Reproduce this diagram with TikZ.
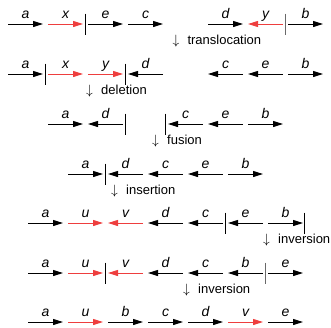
\documentclass[tikz,border=0pt]{standalone}
\usepackage{fontspec}
\setmainfont{Liberation Sans}
\usetikzlibrary{arrows.meta}
\definecolor{genered}{RGB}{238,62,62}
\definecolor{bargray}{RGB}{105,105,105}
\tikzset{
  gk/.style={draw=black, line width=1pt},
  grd/.style={draw=genered, line width=1pt},
  fw/.style={-{Triangle[length=10pt,width=6pt]}},
  lab/.style={anchor=base, yshift=5.5pt, inner sep=0pt, text=black,
    font=\fontsize{14}{16}\selectfont\itshape},
  op/.style={anchor=base west, inner sep=0pt,
    font=\fontsize{13}{15}\selectfont},
  bk/.style={draw=black, line width=1pt},
  bg/.style={draw=bargray, line width=1.2pt}
}
\newcommand{\gR}[5]{%
  \coordinate (#1s) at (#2,#3);
  \coordinate (#1e) at (#2+35,#3);
  \draw[#5,fw] (#1s) -- node[lab]{#4} (#1e);}
\newcommand{\gL}[5]{%
  \coordinate (#1s) at (#2,#3);
  \coordinate (#1e) at (#2+35,#3);
  \draw[#5,fw] (#1e) -- node[lab]{#4} (#1s);}
\newcommand{\gbar}[4]{%
  \coordinate (#1t) at (#2,#3-10.5);
  \coordinate (#1b) at (#2,#3+10.5);
  \draw[#4] (#1t) -- (#1b);}
\newcommand{\opdown}{\makebox[15pt][l]{\scalebox{1.12}{$\downarrow$}}}
\begin{document}
\begin{tikzpicture}[x=1pt,y=-1pt]
\useasboundingbox (0,0) rectangle (331,327);
% row 1
\gR{a1}{8}{24}{a}{gk}
\gR{x1}{48}{24}{x}{grd}
\gbar{b11}{85.5}{24}{bk}
\gR{e1}{88}{24}{e}{gk}
\gR{c1}{128}{24}{c}{gk}
\gR{d1}{208}{24}{d}{gk}
\gL{y1}{248}{24}{y}{grd}
\gbar{b12}{285.5}{24}{bg}
\gR{bb1}{288}{24}{b}{gk}
\node[op] (op1) at (172.3,44) {\opdown translocation};
% row 2
\gR{a2}{8}{74}{a}{gk}
\gbar{b21}{45.7}{74}{bk}
\gR{x2}{48}{74}{x}{grd}
\gR{y2}{88}{74}{y}{grd}
\gbar{b22}{125.3}{74}{bk}
\gL{d2}{128}{74}{d}{gk}
\gL{c2}{208}{74}{c}{gk}
\gL{e2}{248}{74}{e}{gk}
\gR{bb2}{288}{74}{b}{gk}
\node[op] (op2) at (86,94) {\opdown deletion};
% row 3
\gR{a3}{48}{124}{a}{gk}
\gL{d3}{88}{124}{d}{gk}
\gbar{b31}{125.3}{124}{bk}
\gbar{b32}{165.3}{124}{bk}
\gL{c3}{168}{124}{c}{gk}
\gL{e3}{208}{124}{e}{gk}
\gR{bb3}{248}{124}{b}{gk}
\node[op] (op3) at (152,144) {\opdown fusion};
% row 4
\gR{a4}{68}{174}{a}{gk}
\gbar{b41}{105.3}{174}{bk}
\gL{d4}{108}{174}{d}{gk}
\gL{c4}{148}{174}{c}{gk}
\gL{e4}{188}{174}{e}{gk}
\gR{bb4}{228}{174}{b}{gk}
\node[op] (op4) at (111,194) {\opdown insertion};
% row 5
\gR{a5}{28}{223}{a}{gk}
\gR{u5}{68}{223}{u}{grd}
\gL{v5}{108}{223}{v}{grd}
\gL{d5}{148}{223}{d}{gk}
\gL{c5}{188}{223}{c}{gk}
\gbar{b51}{225.3}{223}{bk}
\gL{e5}{228}{223}{e}{gk}
\gR{bb5}{268}{223}{b}{gk}
\gbar{b52}{304.5}{223}{bk}
\node[op] (op5) at (263,243) {\opdown inversion};
% row 6
\gR{a6}{28}{273}{a}{gk}
\gR{u6}{68}{273}{u}{grd}
\gbar{b61}{105.3}{273}{bk}
\gL{v6}{108}{273}{v}{grd}
\gL{d6}{148}{273}{d}{gk}
\gL{c6}{188}{273}{c}{gk}
\gL{bb6}{228}{273}{b}{gk}
\gbar{b62}{265.3}{273}{bg}
\gR{e6}{268}{273}{e}{gk}
\node[op] (op6) at (183,293) {\opdown inversion};
% row 7
\gR{a7}{28}{322}{a}{gk}
\gR{u7}{68}{322}{u}{grd}
\gR{bb7}{108}{322}{b}{gk}
\gR{c7}{148}{322}{c}{gk}
\gR{d7}{188}{322}{d}{gk}
\gR{v7}{228}{322}{v}{grd}
\gR{e7}{268}{322}{e}{gk}
\end{tikzpicture}
\end{document}
